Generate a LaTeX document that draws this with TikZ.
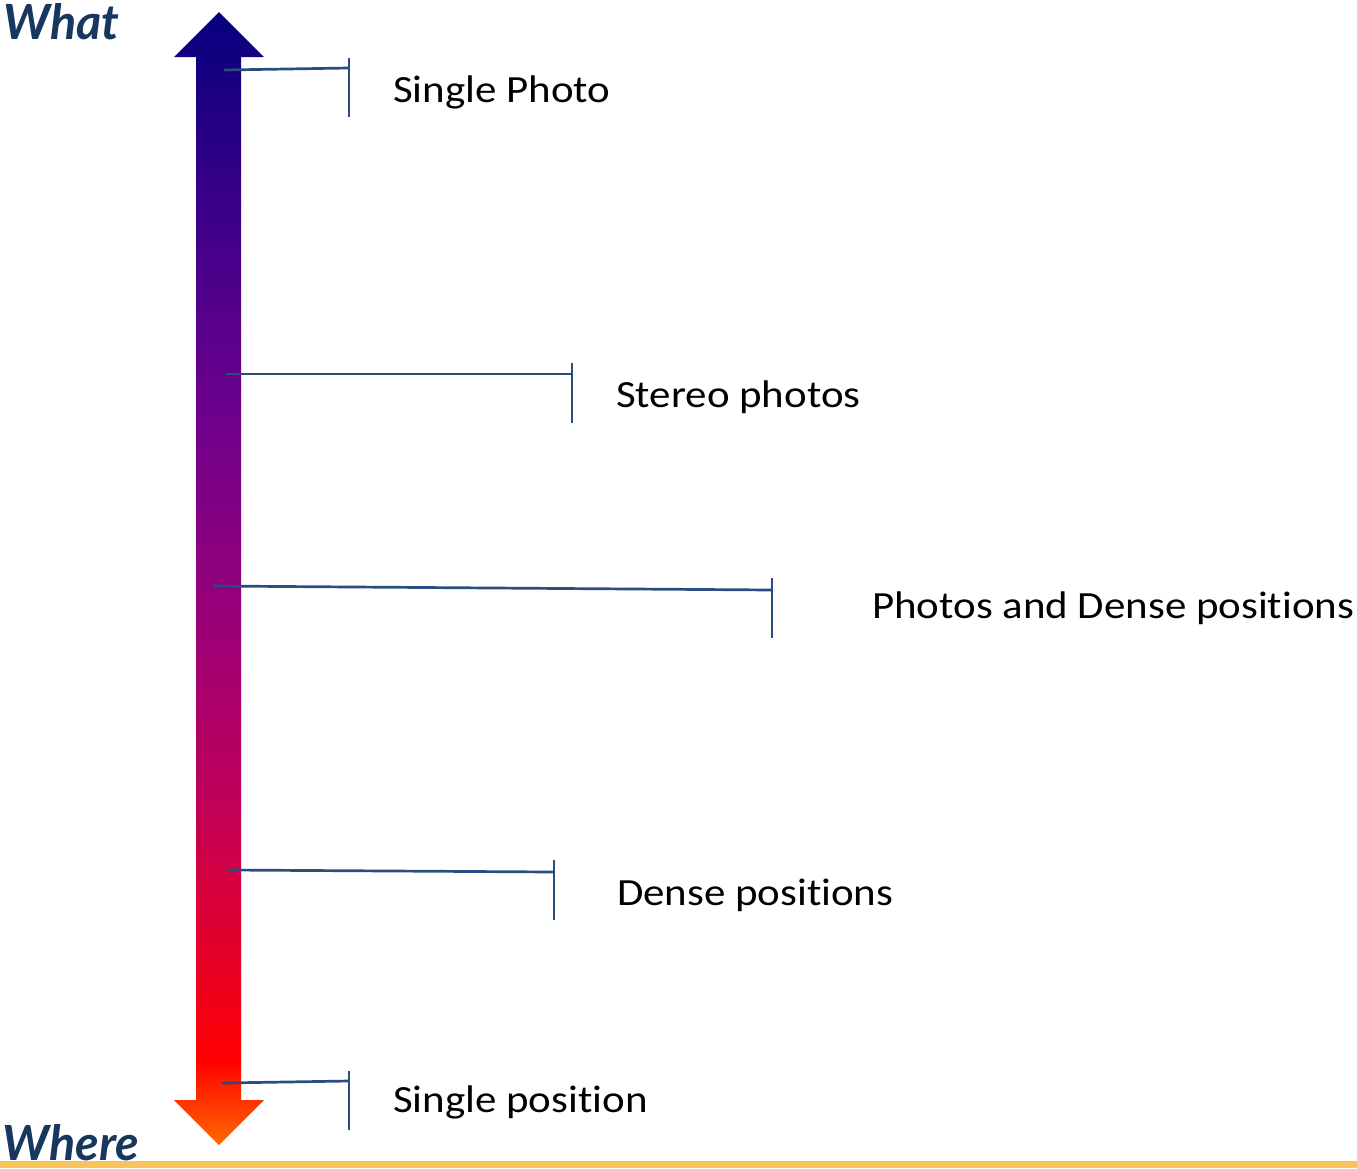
\documentclass[tikz,border=0pt]{standalone}
\usepackage{fontspec}
\setmainfont[Ligatures=NoCommon]{Carlito}
\newfontfamily\headfont{Lato}
\definecolor{tickblue}{HTML}{2A4D80}
\definecolor{headblue}{HTML}{17375E}
\definecolor{barorange}{HTML}{F7C35B}
\definecolor{cA}{HTML}{05007F}
\definecolor{cB}{HTML}{3A0088}
\definecolor{cC}{HTML}{6A008E}
\definecolor{cD}{HTML}{96007A}
\definecolor{cE}{HTML}{C0005A}
\definecolor{cF}{HTML}{F00018}
\definecolor{cG}{HTML}{FF0000}
\definecolor{cH}{HTML}{FF6A00}
\tikzset{
  tickline/.style={draw=tickblue, line width=2.7pt},
  lbl/.style={anchor=base west, inner sep=0pt, font=\fontsize{38.5}{44}\selectfont, text=black},
  head/.style={anchor=base west, inner sep=0pt, font=\headfont\bfseries\itshape\fontsize{48.5}{52}\selectfont, text=headblue}
}
\newcommand{\wlbl}[1]{\scalebox{1.115}[1]{#1}}
\begin{document}
\begin{tikzpicture}[x=1pt,y=-1pt]
\useasboundingbox (0,0) rectangle (1357,1168);
% gradient double arrow
\begin{scope}
\clip (219,12) -- (264,57) -- (241,57) -- (241,1100) -- (264,1100) -- (219,1145)
  -- (174,1100) -- (196,1100) -- (196,57) -- (174,57) -- cycle;
\shade[top color=cA, bottom color=cB] (170,11) rectangle (270,200.5);
\shade[top color=cB, bottom color=cC] (170,200) rectangle (270,400.5);
\shade[top color=cC, bottom color=cD] (170,400) rectangle (270,600.5);
\shade[top color=cD, bottom color=cE] (170,600) rectangle (270,800.5);
\shade[top color=cE, bottom color=cF] (170,800) rectangle (270,1000.5);
\shade[top color=cF, bottom color=cG] (170,1000) rectangle (270,1060.5);
\shade[top color=cG, bottom color=cH] (170,1060) rectangle (270,1146);
\end{scope}
% bottom band
\fill[barorange] (0,1160.5) rectangle (1357,1168);
% headings
\node[head] (what) at (3,39) {What};
\node[head] (where) at (2,1160) {Where};
% ticks
\coordinate (s1) at (224,70);   \coordinate (e1) at (349,68);
\coordinate (t1) at (349,58);   \coordinate (b1) at (349,117);
\coordinate (s2) at (226,374);  \coordinate (e2) at (572,374);
\coordinate (t2) at (572,363);  \coordinate (b2) at (572,423);
\coordinate (s3) at (214,586);  \coordinate (e3) at (772,590);
\coordinate (t3) at (772,578);  \coordinate (b3) at (772,638);
\coordinate (s4) at (228,870);  \coordinate (e4) at (554,872);
\coordinate (t4) at (554,860);  \coordinate (b4) at (554,920);
\coordinate (s5) at (222,1083); \coordinate (e5) at (349,1081);
\coordinate (t5) at (349,1071); \coordinate (b5) at (349,1130);
\foreach \i in {1,...,5}{
  \draw[tickline] (s\i) -- (e\i);
  \draw[tickline] (t\i) -- (b\i);
}
% labels
\node[lbl] (l1) at (393,102) {\wlbl{Single Photo}};
\node[lbl] (l2) at (616,407) {\wlbl{Stereo photos}};
\node[lbl] (l3) at (872,618) {\wlbl{Photos and Dense positions}};
\node[lbl] (l4) at (617,905) {\wlbl{Dense positions}};
\node[lbl] (l5) at (393,1112) {\wlbl{Single position}};
\end{tikzpicture}
\end{document}
